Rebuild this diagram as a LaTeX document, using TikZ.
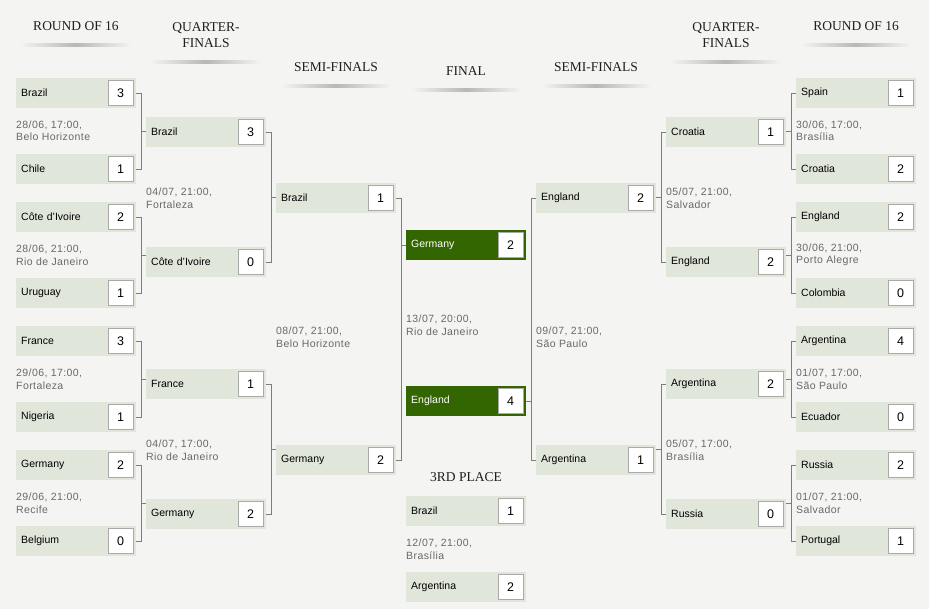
\documentclass[tikz,border=0pt]{standalone}
\usepackage{fontspec}
\setmainfont{Liberation Serif}
\setsansfont{Liberation Sans}
\newfontfamily\datefont[LetterSpace=4]{Liberation Sans}
\usetikzlibrary{calc}

\definecolor{pagebg}{RGB}{244,244,242}
\definecolor{teamfill}{RGB}{225,230,219}
\definecolor{finalfill}{RGB}{51,102,0}
\definecolor{linkgray}{RGB}{125,125,125}
\definecolor{scoreline}{RGB}{170,170,170}
\definecolor{headtext}{RGB}{30,30,30}
\definecolor{datetext}{RGB}{105,105,105}

\begin{document}
\begin{tikzpicture}[x=1pt,y=-1pt,%
    team/.style={rectangle,fill=teamfill,anchor=west,minimum height=30pt,text width=110pt,
      inner xsep=5pt,inner ysep=0pt,align=left,font=\sffamily\fontsize{10.5}{12}\selectfont},
    winner/.style={team,fill=finalfill,text=white},
    score/.style={rectangle,draw=scoreline,fill=white,anchor=east,minimum size=25pt,
      inner sep=0pt,font=\sffamily\fontsize{12.5}{14}\selectfont},
    date/.style={anchor=west,inner sep=0pt,align=left,text=datetext,
      font=\datefont\fontsize{10.5}{12.5}\selectfont},
    head/.style={align=center,text=headtext,font=\rmfamily\fontsize{13.5}{16}\selectfont},
    link/.style={draw=linkgray,line width=0.8pt}
  ]
		\useasboundingbox[fill=pagebg] (0,0) rectangle (929,609);

		% headings
		\node[head] (h1) at (76,26) {ROUND OF 16};
		\node[head] (h2) at (206,35) {QUARTER-\\FINALS};
		\node[head] (h3) at (336,67) {SEMI-FINALS};
		\node[head] (h4) at (466,71) {FINAL};
		\node[head] (h5) at (596,67) {SEMI-FINALS};
		\node[head] (h6) at (726,35) {QUARTER-\\FINALS};
		\node[head] (h7) at (856,26) {ROUND OF 16};
		\node[head] (h8) at (466,477) {3RD PLACE};

		\shade[left color=pagebg,right color=pagebg,middle color=black!28] (20,44) rectangle (131,46.5);
		\shade[left color=pagebg,right color=pagebg,middle color=black!28] (150,61) rectangle (261,63.5);
		\shade[left color=pagebg,right color=pagebg,middle color=black!28] (281,85) rectangle (391,87.5);
		\shade[left color=pagebg,right color=pagebg,middle color=black!28] (411,89) rectangle (521,91.5);
		\shade[left color=pagebg,right color=pagebg,middle color=black!28] (541,85) rectangle (651,87.5);
		\shade[left color=pagebg,right color=pagebg,middle color=black!28] (670,61) rectangle (781,63.5);
		\shade[left color=pagebg,right color=pagebg,middle color=black!28] (801,44) rectangle (911,46.5);

		% round of 16, left
		\node[team] (l1) at (16,93) {Brazil};
		\node[score] (l1s) at ([xshift=-3pt]l1.east) {3};
		\node[team] (l2) at (16,169) {Chile};
		\node[score] (l2s) at ([xshift=-3pt]l2.east) {1};
		\node[team] (l3) at (16,217) {Côte d'Ivoire};
		\node[score] (l3s) at ([xshift=-3pt]l3.east) {2};
		\node[team] (l4) at (16,293) {Uruguay};
		\node[score] (l4s) at ([xshift=-3pt]l4.east) {1};
		\node[team] (l5) at (16,341) {France};
		\node[score] (l5s) at ([xshift=-3pt]l5.east) {3};
		\node[team] (l6) at (16,417) {Nigeria};
		\node[score] (l6s) at ([xshift=-3pt]l6.east) {1};
		\node[team] (l7) at (16,465) {Germany};
		\node[score] (l7s) at ([xshift=-3pt]l7.east) {2};
		\node[team] (l8) at (16,541) {Belgium};
		\node[score] (l8s) at ([xshift=-3pt]l8.east) {0};

		\node[date] (ld1) at (16,131) {28/06, 17:00,\\Belo Horizonte};
		\node[date] (ld2) at (16,255) {28/06, 21:00,\\Rio de Janeiro};
		\node[date] (ld3) at (16,379) {29/06, 17:00,\\Fortaleza};
		\node[date] (ld4) at (16,503) {29/06, 21:00,\\Recife};

		% quarter-finals, left
		\node[team] (lq1) at (146,132) {Brazil};
		\node[score] (lq1s) at ([xshift=-3pt]lq1.east) {3};
		\node[team] (lq2) at (146,262) {Côte d'Ivoire};
		\node[score] (lq2s) at ([xshift=-3pt]lq2.east) {0};
		\node[team] (lq3) at (146,384) {France};
		\node[score] (lq3s) at ([xshift=-3pt]lq3.east) {1};
		\node[team] (lq4) at (146,514) {Germany};
		\node[score] (lq4s) at ([xshift=-3pt]lq4.east) {2};

		\node[date] (lqd1) at (146,198) {04/07, 21:00,\\Fortaleza};
		\node[date] (lqd2) at (146,450) {04/07, 17:00,\\Rio de Janeiro};

		% semi-finals, left
		\node[team] (ls1) at (276,198) {Brazil};
		\node[score] (ls1s) at ([xshift=-3pt]ls1.east) {1};
		\node[team] (ls2) at (276,460) {Germany};
		\node[score] (ls2s) at ([xshift=-3pt]ls2.east) {2};

		\node[date] (lsd) at (276,337) {08/07, 21:00,\\Belo Horizonte};

		% final
		\node[winner] (fg) at (406,245) {Germany};
		\node[score] (fgs) at ([xshift=-3pt]fg.east) {2};
		\node[winner] (fe) at (406,401) {England};
		\node[score] (fes) at ([xshift=-3pt]fe.east) {4};

		\node[date] (fd) at (406,325) {13/07, 20:00,\\Rio de Janeiro};

		% third place
		\node[team] (t1) at (406,511) {Brazil};
		\node[score] (t1s) at ([xshift=-3pt]t1.east) {1};
		\node[team] (t2) at (406,587) {Argentina};
		\node[score] (t2s) at ([xshift=-3pt]t2.east) {2};

		\node[date] (td) at (406,549) {12/07, 21:00,\\Brasília};

		% semi-finals, right
		\node[team] (rs1) at (536,198) {England};
		\node[score] (rs1s) at ([xshift=-3pt]rs1.east) {2};
		\node[team] (rs2) at (536,460) {Argentina};
		\node[score] (rs2s) at ([xshift=-3pt]rs2.east) {1};

		\node[date] (rsd) at (536,337) {09/07, 21:00,\\São Paulo};

		% quarter-finals, right
		\node[team] (rq1) at (666,132) {Croatia};
		\node[score] (rq1s) at ([xshift=-3pt]rq1.east) {1};
		\node[team] (rq2) at (666,262) {England};
		\node[score] (rq2s) at ([xshift=-3pt]rq2.east) {2};
		\node[team] (rq3) at (666,384) {Argentina};
		\node[score] (rq3s) at ([xshift=-3pt]rq3.east) {2};
		\node[team] (rq4) at (666,514) {Russia};
		\node[score] (rq4s) at ([xshift=-3pt]rq4.east) {0};

		\node[date] (rqd1) at (666,198) {05/07, 21:00,\\Salvador};
		\node[date] (rqd2) at (666,450) {05/07, 17:00,\\Brasília};

		% round of 16, right
		\node[team] (r1) at (796,93) {Spain};
		\node[score] (r1s) at ([xshift=-3pt]r1.east) {1};
		\node[team] (r2) at (796,169) {Croatia};
		\node[score] (r2s) at ([xshift=-3pt]r2.east) {2};
		\node[team] (r3) at (796,217) {England};
		\node[score] (r3s) at ([xshift=-3pt]r3.east) {2};
		\node[team] (r4) at (796,293) {Colombia};
		\node[score] (r4s) at ([xshift=-3pt]r4.east) {0};
		\node[team] (r5) at (796,341) {Argentina};
		\node[score] (r5s) at ([xshift=-3pt]r5.east) {4};
		\node[team] (r6) at (796,417) {Ecuador};
		\node[score] (r6s) at ([xshift=-3pt]r6.east) {0};
		\node[team] (r7) at (796,465) {Russia};
		\node[score] (r7s) at ([xshift=-3pt]r7.east) {2};
		\node[team] (r8) at (796,541) {Portugal};
		\node[score] (r8s) at ([xshift=-3pt]r8.east) {1};

		\node[date] (rd1) at (796,131) {30/06, 17:00,\\Brasília};
		\node[date] (rd2) at (796,255) {30/06, 21:00,\\Porto Alegre};
		\node[date] (rd3) at (796,379) {01/07, 17:00,\\São Paulo};
		\node[date] (rd4) at (796,503) {01/07, 21:00,\\Salvador};

		% brackets, left half
		\foreach \a/\b/\q in {l1/l2/lq1,l3/l4/lq2,l5/l6/lq3,l7/l8/lq4,lq1/lq2/ls1,lq3/lq4/ls2}{
			\draw[link] (\a.east) -- ++(5pt,0) |- (\b.east);
			\coordinate (m) at ($(\a.east)!.5!(\b.east)+(5pt,0)$);
			\draw[link] (m) -- (m -| \q.west);
		}
		\draw[link] (ls1.east) -- ++(5pt,0) |- (ls2.east);
		\draw[link] (fg.west) -- ++(-5pt,0);

		% brackets, right half
		\foreach \a/\b/\q in {r1/r2/rq1,r3/r4/rq2,r5/r6/rq3,r7/r8/rq4,rq1/rq2/rs1,rq3/rq4/rs2}{
			\draw[link] (\a.west) -- ++(-5pt,0) |- (\b.west);
			\coordinate (m) at ($(\a.west)!.5!(\b.west)+(-5pt,0)$);
			\draw[link] (m) -- (m -| \q.east);
		}
		\draw[link] (rs1.west) -- ++(-5pt,0) |- (rs2.west);
		\draw[link] (fe.east) -- ++(5pt,0);
	\end{tikzpicture}
\end{document}
